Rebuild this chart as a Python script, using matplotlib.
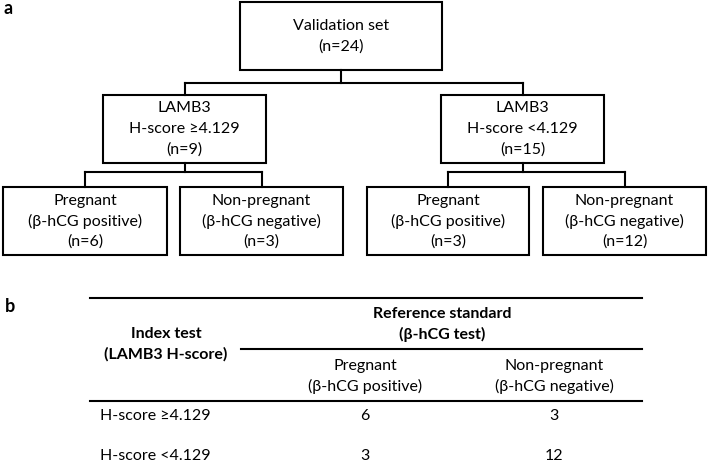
import matplotlib.pyplot as plt
from matplotlib.patches import Rectangle

plt.rcParams['font.family'] = ['Lato', 'DejaVu Sans']

# ===== DATA =====
root_label = ['Validation set', '(n=24)']
split_labels = [['LAMB3', 'H-score \u22654.129', '(n=9)'],
                ['LAMB3', 'H-score <4.129', '(n=15)']]
outcome_names = ['Pregnant', 'Non-pregnant']
outcome_tests = ['(\u03b2-hCG positive)', '(\u03b2-hCG negative)']
leaf_counts = [[6, 3], [3, 12]]

index_header = ['Index test', '(LAMB3 H-score)']
ref_header = ['Reference standard', '(\u03b2-hCG test)']
row_labels = ['H-score \u22654.129', 'H-score <4.129']

# ===== LAYOUT (pixel coords) =====
W, H = 708, 463
fig = plt.figure(figsize=(W / 100, H / 100), dpi=100)
ax = fig.add_axes([0, 0, 1, 1])
ax.set_xlim(0, W)
ax.set_ylim(H, 0)
ax.axis('off')

LW = 1.5
FS = 11.5


def box(x0, x1, y0, y1, lines):
    ax.add_patch(Rectangle((x0, y0), x1 - x0, y1 - y0, fill=False,
                           lw=LW, ec='black', joinstyle='miter'))
    cx = (x0 + x1) / 2
    n = len(lines)
    step = 20.5
    mid = (y0 + y1) / 2
    for i, t in enumerate(lines):
        ax.text(cx, mid + (i - (n - 1) / 2) * step, t, ha='center',
                va='center', fontsize=FS)


def connector(xp, ytop, ymid, ybot, xs):
    ax.plot([xp, xp], [ytop, ymid], color='black', lw=LW)
    ax.plot([min(xs), max(xs)], [ymid, ymid], color='black', lw=LW,
            solid_capstyle='projecting')
    for x in xs:
        ax.plot([x, x], [ymid, ybot], color='black', lw=LW)


# panel a
ax.text(3, 9, 'a', fontsize=13, fontweight='bold', ha='left', va='center')
box(240, 442, 2, 70, root_label)

mid_boxes = [(103, 266), (441, 604)]
connector(341, 70, 83, 95, [(a + b) / 2 for a, b in mid_boxes])

leaf_boxes = [[(3, 167), (180, 343)], [(367, 529), (543, 706)]]
for k, (x0, x1) in enumerate(mid_boxes):
    box(x0, x1, 95, 163, split_labels[k])
    centers = [(a + b) / 2 for a, b in leaf_boxes[k]]
    connector((x0 + x1) / 2, 163, 172, 187, centers)
    for j, (a, b) in enumerate(leaf_boxes[k]):
        box(a, b, 187, 255, [outcome_names[j], outcome_tests[j],
                             '(n=%d)' % leaf_counts[k][j]])

# panel b
ax.text(5, 306, 'b', fontsize=13, fontweight='bold', ha='left', va='center')
ax.plot([90, 642], [298, 298], color='black', lw=LW)
ax.plot([241, 642], [349, 349], color='black', lw=LW)
ax.plot([90, 642], [401, 401], color='black', lw=LW)

ax.text(442, 314, ref_header[0], ha='center', va='center', fontsize=FS,
        fontweight='bold')
ax.text(442, 334, ref_header[1], ha='center', va='center', fontsize=FS,
        fontweight='bold')
ax.text(166, 334, index_header[0], ha='center', va='center', fontsize=FS,
        fontweight='bold')
ax.text(166, 354, index_header[1], ha='center', va='center', fontsize=FS,
        fontweight='bold')

col_x = [365, 554]
for j in range(2):
    ax.text(col_x[j], 366, outcome_names[j], ha='center', va='center',
            fontsize=FS)
    ax.text(col_x[j], 386, outcome_tests[j], ha='center', va='center',
            fontsize=FS)

row_y = [416, 456]
for i in range(2):
    ax.text(100, row_y[i], row_labels[i], ha='left', va='center', fontsize=FS)
    for j in range(2):
        ax.text(col_x[j], row_y[i], str(leaf_counts[i][j]), ha='center',
                va='center', fontsize=FS)

fig.savefig('out.png', dpi=100)
